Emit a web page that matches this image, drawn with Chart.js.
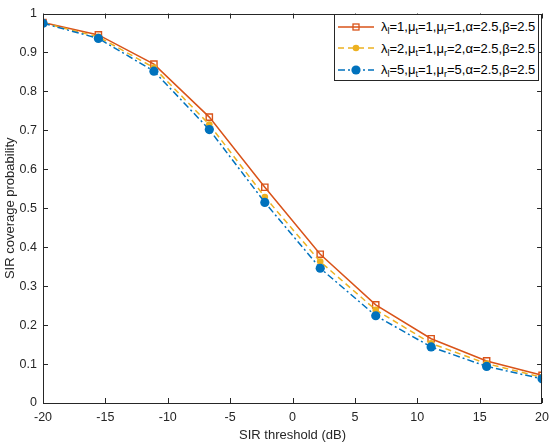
<!DOCTYPE html>
<html>
<head>
<meta charset="utf-8">
<script src="https://cdn.jsdelivr.net/npm/chart.js@4"></script>
<style>
  html, body { margin: 0; padding: 0; background: #fff; }
  #wrap { position: relative; width: 556px; height: 446px; }
  #legend {
    position: absolute; left: 334px; top: 14px; width: 205px; height: 67px;
    box-sizing: border-box; border: 1px solid #262626; background: #fff;
    font-family: "Liberation Sans", Arial, sans-serif; font-size: 13px; color: #000;
    padding-top: 1px;
  }
  #legend .row { display: flex; align-items: center; height: 21.5px; white-space: nowrap; }
  #legend svg { flex: none; margin-left: 2px; margin-right: 6px; }
  #legend sub { font-size: 70%; vertical-align: -0.35em; line-height: 0; }
</style>
</head>
<body>
<div id="wrap">
  <canvas id="myChart" width="556" height="446"></canvas>
  <div id="legend"></div>
</div>
<script>
const thresholds = [-20, -15.56, -11.11, -6.67, -2.22, 2.22, 6.67, 11.11, 15.56, 20];
const seriesA = [0.977, 0.945, 0.870, 0.734, 0.554, 0.382, 0.252, 0.165, 0.108, 0.071];
const seriesB = [0.976, 0.940, 0.861, 0.715, 0.529, 0.363, 0.239, 0.153, 0.101, 0.066];
const seriesC = [0.975, 0.936, 0.852, 0.702, 0.515, 0.346, 0.224, 0.144, 0.094, 0.062];
const legendLabels = [
  'λ<sub>l</sub>=1,μ<sub>t</sub>=1,μ<sub>r</sub>=1,α=2.5,β=2.5',
  'λ<sub>l</sub>=2,μ<sub>t</sub>=1,μ<sub>r</sub>=2,α=2.5,β=2.5',
  'λ<sub>l</sub>=5,μ<sub>t</sub>=1,μ<sub>r</sub>=5,α=2.5,β=2.5'
];
const xTicks = [-20, -15, -10, -5, 0, 5, 10, 15, 20];

const axisColor = '#262626';
const font = "'Liberation Sans', Arial, sans-serif";

function toPoints(vals) {
  return vals.map((v, i) => ({ x: thresholds[i], y: v }));
}

// MATLAB style box with inward ticks on all four sides
const boxTicks = {
  id: 'boxTicks',
  afterDraw(chart) {
    const { ctx, chartArea: a, scales: { x, y } } = chart;
    const len = 5;
    ctx.save();
    ctx.strokeStyle = axisColor;
    ctx.lineWidth = 1;
    ctx.beginPath();
    ctx.rect(Math.round(a.left) + 0.5, Math.round(a.top) + 0.5,
      Math.round(a.right - a.left) - 1, Math.round(a.bottom - a.top) - 1);
    x.ticks.forEach(t => {
      const px = Math.round(x.getPixelForValue(t.value)) + 0.5;
      ctx.moveTo(px, a.bottom); ctx.lineTo(px, a.bottom - len);
      ctx.moveTo(px, a.top); ctx.lineTo(px, a.top + len);
    });
    y.ticks.forEach(t => {
      const py = Math.round(y.getPixelForValue(t.value)) + 0.5;
      ctx.moveTo(a.left, py); ctx.lineTo(a.left + len, py);
      ctx.moveTo(a.right, py); ctx.lineTo(a.right - len, py);
    });
    ctx.stroke();
    ctx.restore();
  }
};

const chart = new Chart(document.getElementById('myChart'), {
  type: 'line',
  data: {
    datasets: [
      {
        label: 'λl=1,μt=1,μr=1,α=2.5,β=2.5',
        data: toPoints(seriesA),
        borderColor: '#D95319',
        backgroundColor: 'rgba(255,255,255,0)',
        borderWidth: 1.5,
        pointStyle: 'rect',
        pointRadius: 4.4,
        pointBorderWidth: 1.4,
        pointBorderColor: '#D95319',
        order: 3
      },
      {
        label: 'λl=2,μt=1,μr=2,α=2.5,β=2.5',
        data: toPoints(seriesB),
        borderColor: '#EDB120',
        backgroundColor: '#EDB120',
        borderWidth: 1.5,
        borderDash: [6, 4],
        pointStyle: 'circle',
        pointRadius: 3.3,
        pointBorderWidth: 0,
        order: 2
      },
      {
        label: 'λl=5,μt=1,μr=5,α=2.5,β=2.5',
        data: toPoints(seriesC),
        borderColor: '#0072BD',
        backgroundColor: '#0072BD',
        borderWidth: 1.5,
        borderDash: [7, 3, 2, 3],
        pointStyle: 'circle',
        pointRadius: 4.6,
        pointBorderWidth: 0,
        order: 1
      }
    ]
  },
  options: {
    responsive: false,
    animation: false,
    layout: { padding: { top: 5, right: 8, left: 0, bottom: 0 } },
    plugins: { legend: { display: false }, tooltip: { enabled: false } },
    scales: {
      x: {
        type: 'linear',
        min: -20,
        max: 20,
        afterBuildTicks: s => { s.ticks = xTicks.map(v => ({ value: v })); },
        afterFit: s => { s.height = 43; },
        grid: { display: false, drawTicks: false },
        border: { display: false },
        ticks: { color: axisColor, padding: 7, font: { family: font, size: 12.5 } },
        title: { display: true, text: 'SIR threshold (dB)', color: axisColor,
          font: { family: font, size: 13 }, padding: { top: 2, bottom: 3 } }
      },
      y: {
        min: 0,
        max: 1,
        afterFit: s => { s.width = 43; },
        grid: { display: false, drawTicks: false },
        border: { display: false },
        ticks: { stepSize: 0.1, color: axisColor, padding: 6,
          font: { family: font, size: 12.5 },
          callback: v => String(Number(v.toFixed(1))) },
        title: { display: true, text: 'SIR coverage probability', color: axisColor,
          font: { family: font, size: 13 }, padding: { top: 3, bottom: 2 } }
      }
    }
  },
  plugins: [boxTicks]
});

// html legend so the subscripts stay real text
const legendEl = document.getElementById('legend');
chart.data.datasets.forEach((ds, i) => {
  const dash = ds.borderDash ? ds.borderDash.join(',') : 'none';
  const marker = ds.pointStyle === 'rect'
    ? `<rect x="16" y="8" width="6" height="6" fill="none" stroke="${ds.borderColor}" stroke-width="1.3"/>`
    : `<circle cx="19" cy="11" r="${ds.pointRadius}" fill="${ds.backgroundColor}"/>`;
  const row = document.createElement('div');
  row.className = 'row';
  row.innerHTML =
    `<svg width="38" height="22"><line x1="1" y1="11" x2="37" y2="11" stroke="${ds.borderColor}" stroke-width="1.5" stroke-dasharray="${dash}"/>${marker}</svg>` +
    `<span>${legendLabels[i]}</span>`;
  legendEl.appendChild(row);
});
</script>
</body>
</html>
